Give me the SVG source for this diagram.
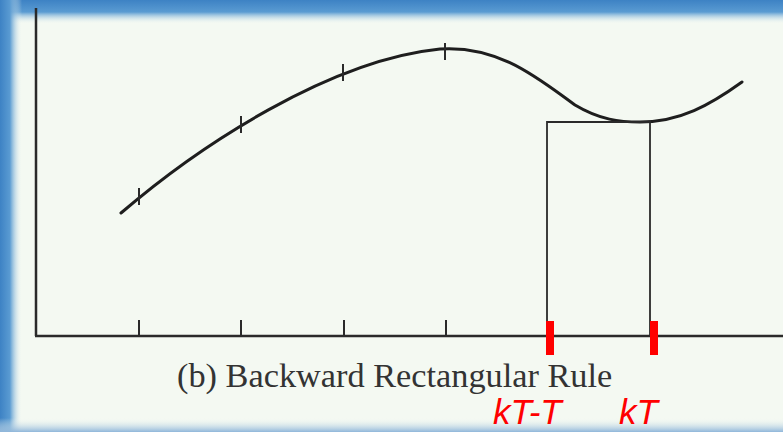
<svg xmlns="http://www.w3.org/2000/svg" width="783" height="432" viewBox="0 0 783 432">
<defs>
<linearGradient id="gTop" x1="0" y1="0" x2="0" y2="1">
<stop offset="0" stop-color="#3d82c4"/>
<stop offset="0.5" stop-color="#5a9bd2"/>
<stop offset="1" stop-color="#f4f9f2" stop-opacity="0"/>
</linearGradient>
<linearGradient id="gLeft" x1="0" y1="0" x2="1" y2="0">
<stop offset="0" stop-color="#3d82c4"/>
<stop offset="0.45" stop-color="#5a9bd2"/>
<stop offset="1" stop-color="#f4f9f2" stop-opacity="0"/>
</linearGradient>
<linearGradient id="gBot" x1="0" y1="0" x2="0" y2="1">
<stop offset="0" stop-color="#f4f9f2" stop-opacity="0"/>
<stop offset="1" stop-color="#8fb6da"/>
</linearGradient>
<style>
.ax{stroke:#2a2a2a;stroke-width:2.5;fill:none}
.tk{stroke:#2a2a2a;stroke-width:2;fill:none}
.cv{stroke:#1e1e1e;stroke-width:3;fill:none;stroke-linecap:round}
.rc{stroke:#2a2a2a;stroke-width:1.8;fill:none}
.rt{fill:#ff0000}
.cap{font-family:"Liberation Serif","Times New Roman",serif;font-size:34.3px;fill:#333}
.lab{font-family:"Liberation Sans",Arial,sans-serif;font-style:italic;font-size:35px;fill:#ff0000}
</style>
</defs>
<rect x="0" y="0" width="783" height="432" fill="#f4f9f2"/>
<rect x="0" y="0" width="783" height="24" fill="url(#gTop)"/>
<rect x="0" y="0" width="22" height="432" fill="url(#gLeft)"/>
<rect x="0" y="418" width="783" height="14" fill="url(#gBot)"/>
<g id="axes">
<line class="ax" x1="36" y1="8" x2="36" y2="336"/>
<line class="ax" x1="35" y1="336" x2="783" y2="336"/>
<line class="tk" x1="139" y1="320" x2="139" y2="336"/>
<line class="tk" x1="241" y1="320" x2="241" y2="336"/>
<line class="tk" x1="344" y1="320" x2="344" y2="336"/>
<line class="tk" x1="446" y1="320" x2="446" y2="336"/>
</g>
<g id="curve">
<path class="cv" d="M121,213 C200,145 330,60 440,49 C500,45 540,80 575,105 C600,120 620,122 640,122 C680,122 710,105 742,82"/>
<line class="tk" x1="139" y1="188" x2="139" y2="205"/>
<line class="tk" x1="241" y1="116" x2="241" y2="133"/>
<line class="tk" x1="343" y1="64" x2="343" y2="81"/>
<line class="tk" x1="445" y1="43" x2="445" y2="60"/>
</g>
<g id="rectangle">
<polyline class="rc" points="547,336 547,122 650,122 650,336"/>
</g>
<g id="markers">
<rect class="rt" x="546" y="321" width="8" height="34"/>
<rect class="rt" x="650" y="321" width="8" height="34"/>
</g>
<g id="labels">
<text class="cap" x="177" y="387">(b) Backward Rectangular Rule</text>
<text class="lab" x="493" y="424">kT-T</text>
<text class="lab" x="619" y="424">kT</text>
</g>
</svg>
